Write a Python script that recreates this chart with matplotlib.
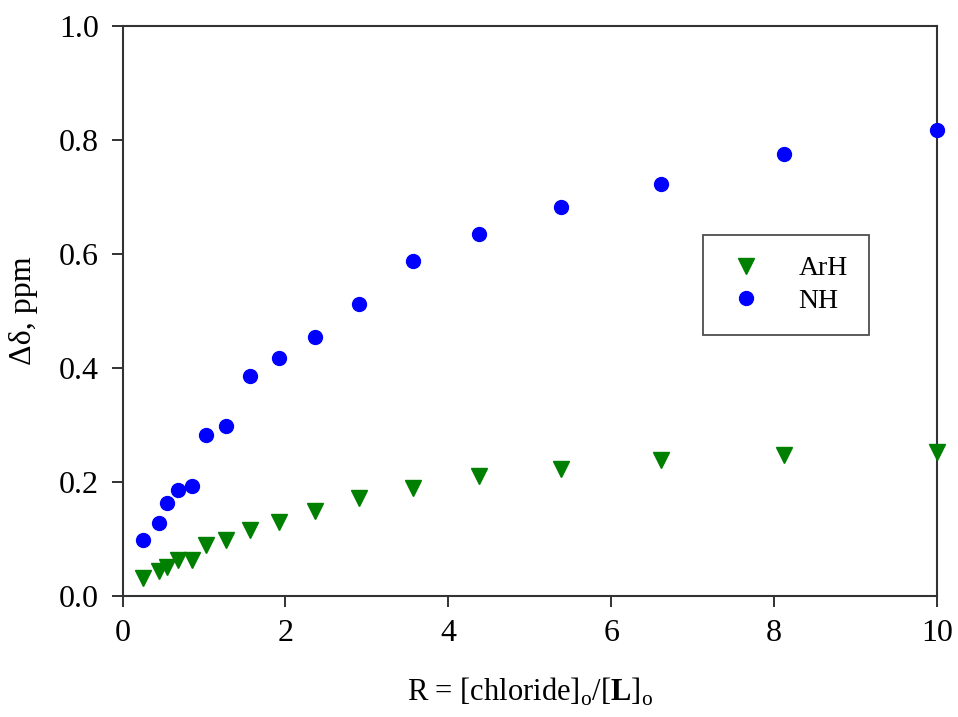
import numpy as np
import matplotlib.pyplot as plt

# R = [chloride]o/[L]o
r = [0.25, 0.45, 0.55, 0.68, 0.85, 1.03, 1.27, 1.56, 1.92, 2.36,
     2.90, 3.56, 4.38, 5.38, 6.61, 8.12, 10.0]

# chemical shift changes (ppm)
arh = [0.032, 0.044, 0.051, 0.063, 0.063, 0.089, 0.098, 0.116, 0.130, 0.149,
       0.172, 0.189, 0.211, 0.223, 0.239, 0.247, 0.253]
nh = [0.098, 0.128, 0.163, 0.186, 0.193, 0.282, 0.298, 0.386, 0.418, 0.454,
      0.512, 0.588, 0.635, 0.682, 0.723, 0.775, 0.818]

plt.rcParams['font.family'] = ['Liberation Serif', 'DejaVu Serif']
plt.rcParams['mathtext.fontset'] = 'custom'
plt.rcParams['mathtext.rm'] = 'Liberation Serif'
plt.rcParams['mathtext.bf'] = 'Liberation Serif:bold'

fig = plt.figure(figsize=(9.58, 7.17), dpi=100)
ax = fig.add_axes([0.128, 0.169, 0.850, 0.795])

ax.plot(r, arh, linestyle='none', marker='v', markersize=11, color='#008000',
        label='ArH', clip_on=False, zorder=3)
ax.plot(r, nh, linestyle='none', marker='o', markersize=10, color='#0000ff',
        label='NH', clip_on=False, zorder=3)

ax.set_xlim(0, 10)
ax.set_ylim(0, 1.0)
ax.set_xticks(np.arange(0, 11, 2))
ax.set_yticks(np.arange(0, 1.01, 0.2))
ax.set_yticklabels(['%.1f' % v for v in np.arange(0, 1.01, 0.2)])
ax.tick_params(direction='out', length=8, width=1.3, labelsize=23, pad=9,
               colors='#222222', labelcolor='black')
for s in ax.spines.values():
    s.set_linewidth(1.5)
    s.set_color('#333333')

ax.set_xlabel(r'R = [chloride]$_\mathrm{o}$/[$\mathbf{L}$]$_\mathrm{o}$',
              fontsize=22, labelpad=20)
ax.set_ylabel('\u0394\u03b4, ppm', fontsize=23, labelpad=15)

leg = ax.legend(loc='upper left', bbox_to_anchor=(0.7125, 0.633), fontsize=20,
                frameon=True, fancybox=False, edgecolor='#222222',
                handletextpad=1.1, borderpad=0.75, handlelength=1.6,
                labelspacing=0.25, markerscale=1.0, borderaxespad=0)
leg.get_frame().set_linewidth(1.3)

fig.savefig('out.png', dpi=100)
